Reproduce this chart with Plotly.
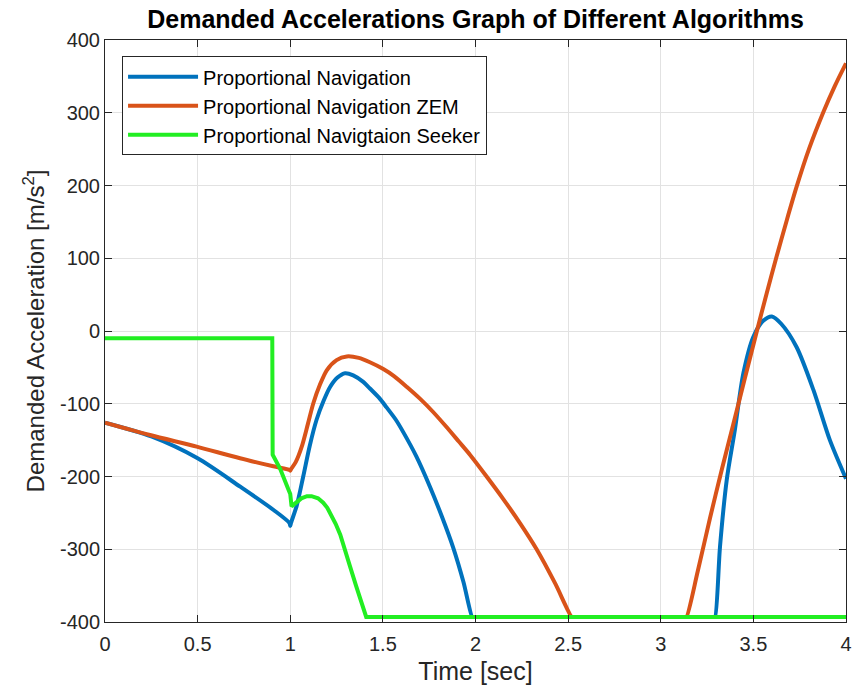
import plotly.graph_objects as go

# ---- data ----
t_pn = [0, 0.25, 0.5, 0.73, 0.91, 0.996, 1.0, 1.004, 1.035, 1.07, 1.105, 1.142, 1.18, 1.215, 1.255, 1.296,
        1.34, 1.394, 1.43, 1.48, 1.52, 1.57, 1.61, 1.68, 1.754, 1.82, 1.88, 1.935, 1.982, 1.987,
        3.288, 3.293, 3.32, 3.356, 3.40, 3.446, 3.5, 3.553, 3.6, 3.65, 3.733, 3.824, 3.913, 4.0]
a_pn = [-126, -145, -175, -214, -246, -264, -268, -264, -240, -200, -158, -122, -96, -77, -64, -58,
        -61, -70, -79, -92, -105, -122, -139, -172, -214, -256, -298, -345, -393, -393,
        -393, -393, -296, -205, -136, -58, -8, 14, 20, 10, -22, -81, -150, -203]

t_zem = [0, 0.243, 0.495, 0.729, 0.909, 0.996, 1.0, 1.004, 1.03, 1.062, 1.095, 1.125, 1.16, 1.197, 1.25, 1.305,
         1.37, 1.43, 1.5, 1.56, 1.63, 1.7, 1.77, 1.84, 1.91, 1.97, 2.06, 2.15, 2.24, 2.33, 2.43, 2.519, 2.524,
         3.134, 3.139, 3.2, 3.266, 3.33, 3.392, 3.455, 3.518, 3.572, 3.626, 3.68, 3.733, 3.8, 3.878, 3.94, 4.0]
a_zem = [-126, -143, -159, -175, -186, -191, -192, -190, -180, -159, -128, -99, -74, -54, -40, -35,
         -37, -43, -52, -62, -77, -93, -111, -131, -152, -170, -200, -231, -264, -300, -347, -393, -393,
         -393, -393, -330, -257, -190, -128, -64, -1, 52, 103, 152, 198, 250, 301, 337, 368]

t_seek = [0, 0.903, 0.905, 0.945, 0.99, 1.0, 1.007, 1.03, 1.06, 1.09, 1.115, 1.15, 1.178,
          1.20, 1.22, 1.245, 1.27, 1.30, 1.323, 1.355, 1.386, 1.41, 4.0]
a_seek = [-10, -10, -170, -189, -218, -224, -241, -236, -230, -227, -227, -230, -236,
          -243, -252, -265, -280, -303, -324, -350, -374, -393, -393]

names = ["Proportional Navigation", "Proportional Navigation ZEM", "Proportional Navigtaion Seeker"]
colors = ["#0072BD", "#D95319", "#22EE22"]
shapes = ["spline", "spline", "linear"]

x_ticks = [0, 0.5, 1, 1.5, 2, 2.5, 3, 3.5, 4]
x_tick_text = ["0", "0.5", "1", "1.5", "2", "2.5", "3", "3.5", "4"]
y_ticks = [-400, -300, -200, -100, 0, 100, 200, 300, 400]
y_tick_text = ["-400", "-300", "-200", "-100", "0", "100", "200", "300", "400"]

FONT = "Liberation Sans, Arial, sans-serif"
INK = "#262626"

fig = go.Figure()
for t, a, n, c, s in zip([t_pn, t_zem, t_seek], [a_pn, a_zem, a_seek], names, colors, shapes):
    line = dict(color=c, width=4, shape=s)
    if s == "spline":
        line["smoothing"] = 0.8
    fig.add_trace(go.Scatter(x=t, y=a, mode="lines", name=n, line=line))

axis_common = dict(
    showline=True, linecolor=INK, linewidth=1, mirror="ticks",
    ticks="inside", ticklen=7, tickcolor=INK, tickwidth=1,
    showgrid=True, gridcolor="#e2e2e2", gridwidth=1, automargin=False,
    zeroline=False, tickfont=dict(family=FONT, size=20, color=INK),
)

fig.update_layout(
    width=856, height=698,
    margin=dict(l=105, r=10, t=40, b=76),
    paper_bgcolor="white", plot_bgcolor="white",
    font=dict(family=FONT, color=INK),
    title=dict(text="<b>Demanded Accelerations Graph of Different Algorithms</b>",
               font=dict(family=FONT, size=25, color="black"),
               x=0.5, xref="paper", xanchor="center",
               y=1 - 19 / 698, yref="container", yanchor="middle"),
    xaxis=dict(range=[0, 4], tickvals=x_ticks, ticktext=x_tick_text,
               ticklabelstandoff=4,
               title=dict(text="Time [sec]", font=dict(family=FONT, size=25, color=INK), standoff=8),
               **axis_common),
    yaxis=dict(range=[-400, 400], tickvals=y_ticks, ticktext=y_tick_text,
               title=dict(text="Demanded Acceleration [m/s<sup>2</sup>]",
                          font=dict(family=FONT, size=24, color=INK), standoff=8),
               **axis_common),
    legend=dict(x=0.023, y=0.972, xanchor="left", yanchor="top",
                bgcolor="white", bordercolor=INK, borderwidth=1,
                font=dict(family=FONT, size=20, color="black"),
                tracegroupgap=0, itemwidth=70),
    showlegend=True,
)

fig.write_html("out.html")
